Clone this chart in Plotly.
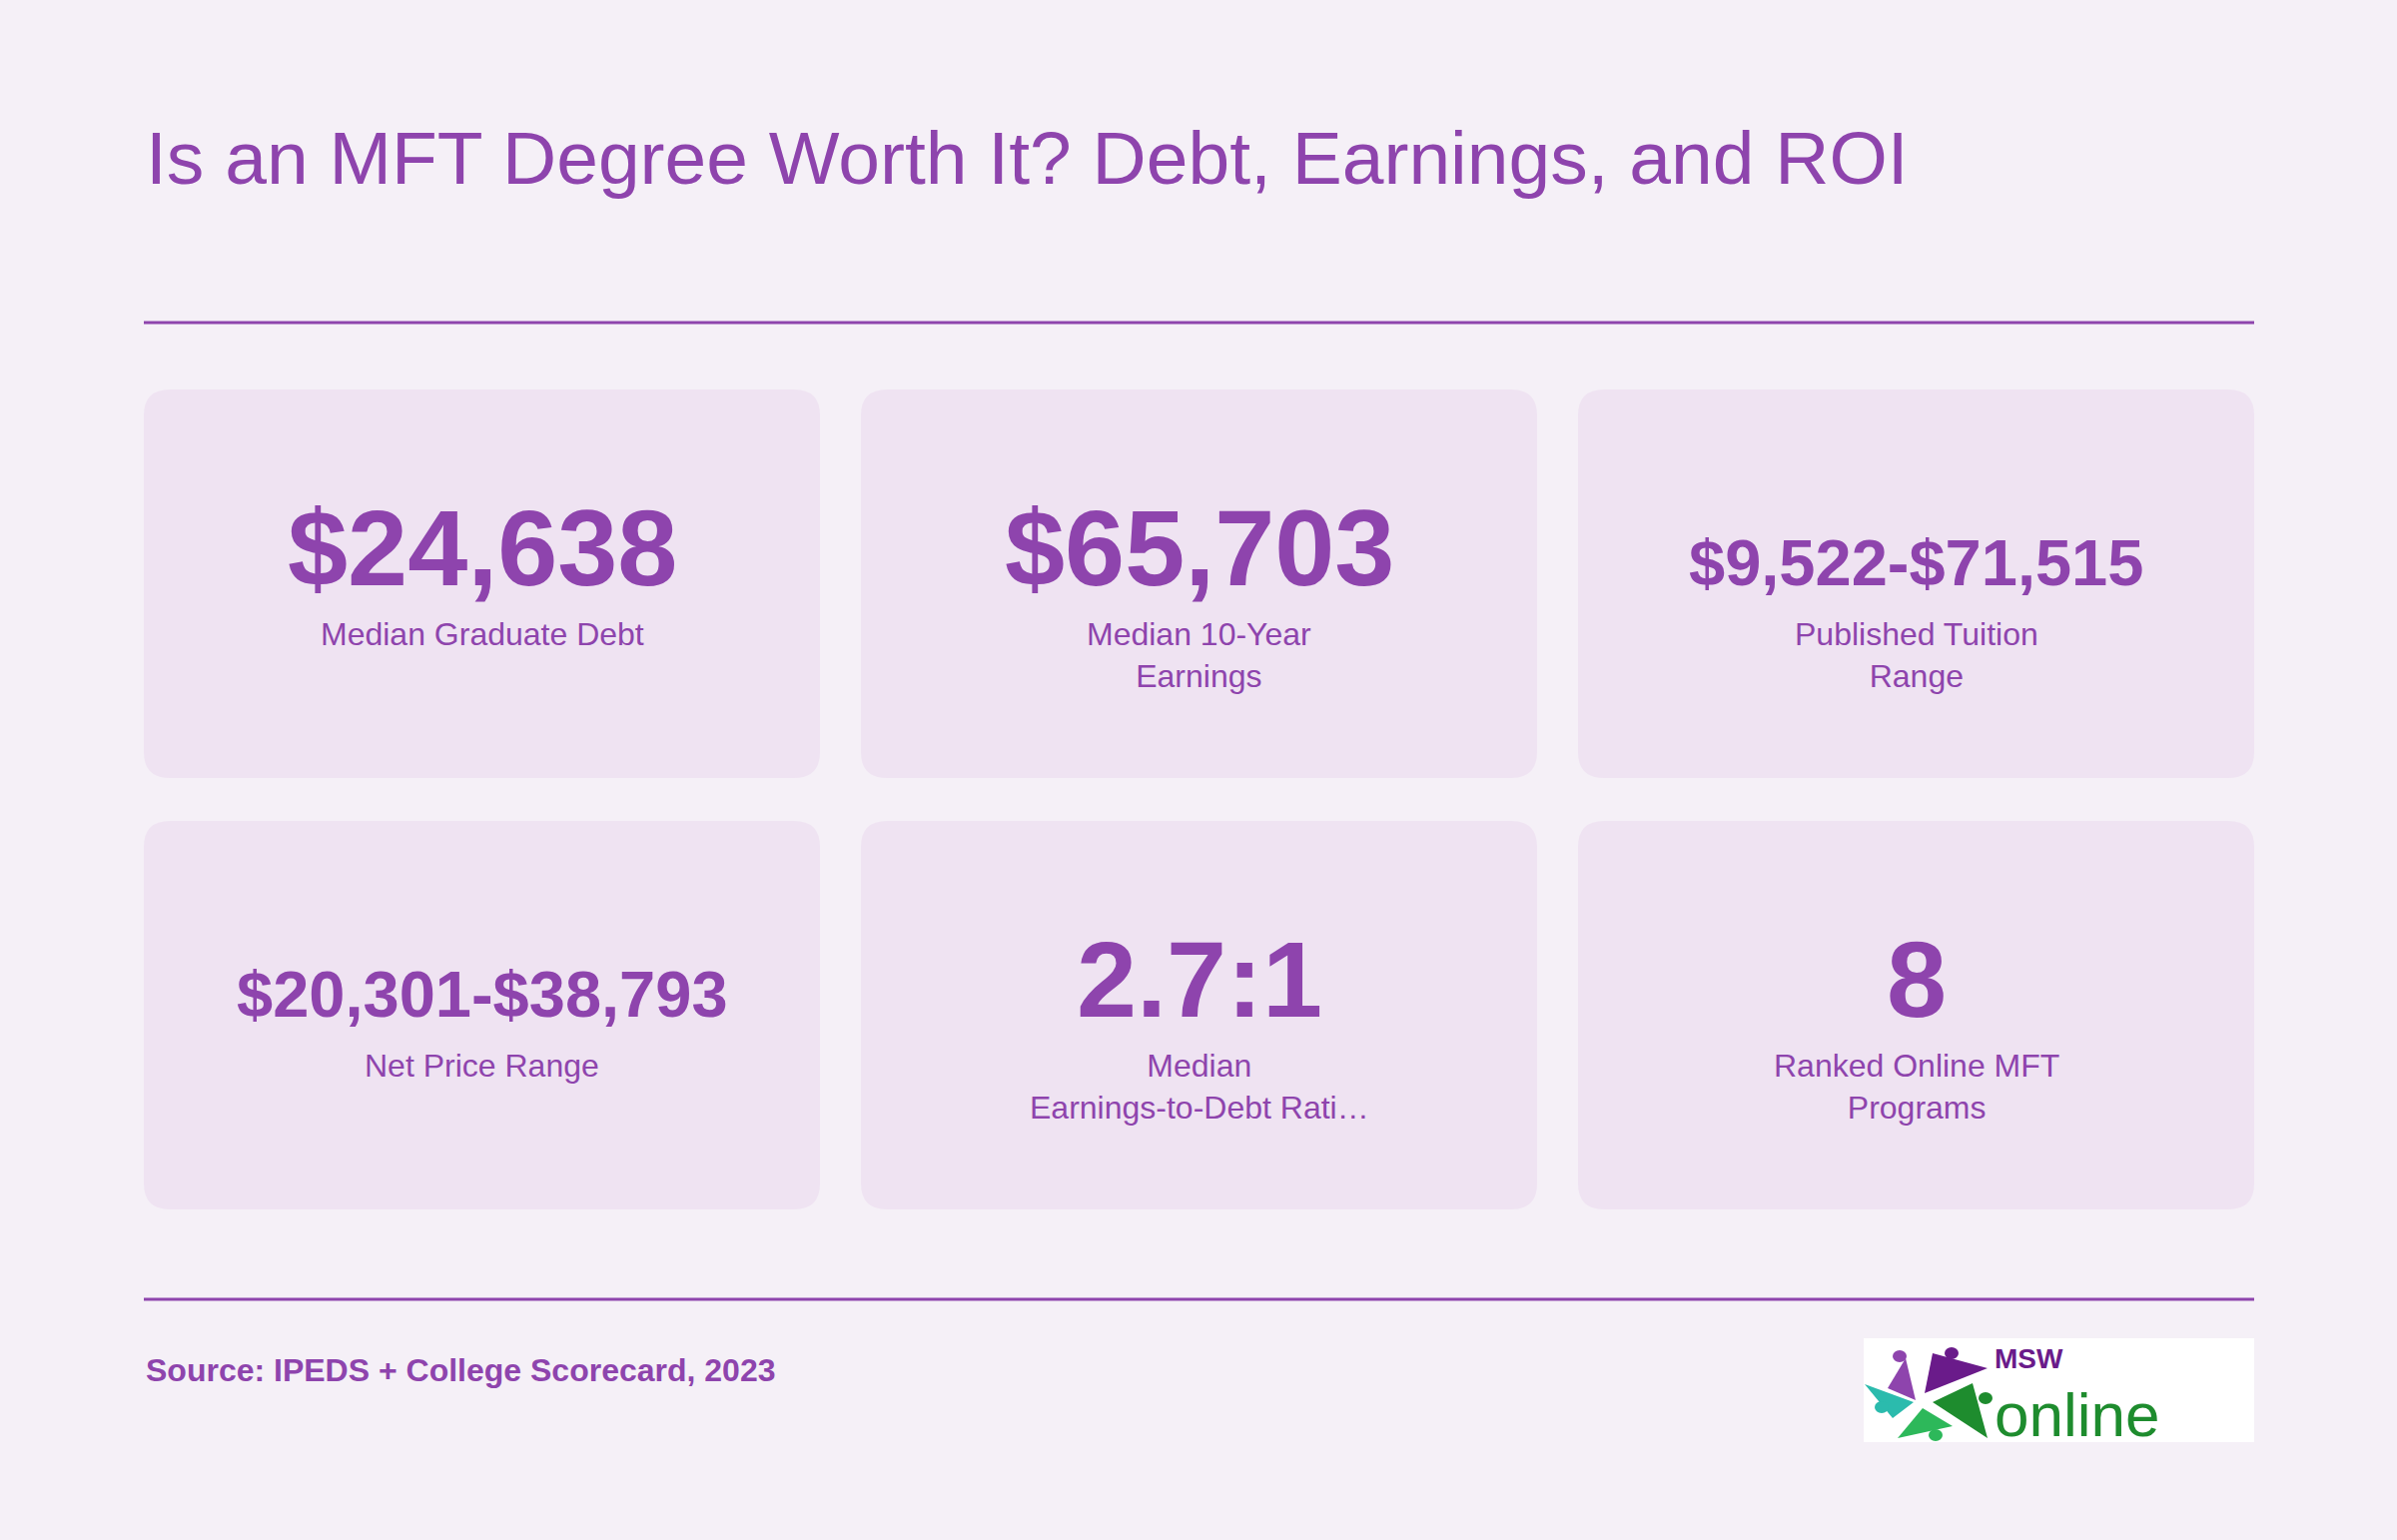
import plotly.graph_objects as go

# KPI values and labels
values = ["$24,638", "$65,703", "$9,522-$71,515",
          "$20,301-$38,793", "2.7:1", "8"]
labels = ["Median Graduate Debt", "Median 10-Year<br>Earnings",
          "Published Tuition<br>Range", "Net Price Range",
          "Median<br>Earnings-to-Debt Rati…", "Ranked Online MFT<br>Programs"]
value_sizes = [108, 108, 65, 65, 108, 108]

title = "Is an MFT Degree Worth It? Debt, Earnings, and ROI"
source = "Source: IPEDS + College Scorecard, 2023"

W, H = 2400, 1542
PURPLE = "#8E44AD"
BG = "#F5F0F7"
CARD = "#EFE3F2"
FONT = "Liberation Sans, Arial, sans-serif"

col_x = [(144, 821), (862, 1539), (1580, 2257)]
row_y = [(390, 779), (822, 1211)]


def rounded(x0, y0, x1, y1, r):
    return (f"M{x0+r},{y0} L{x1-r},{y0} Q{x1},{y0} {x1},{y0+r} "
            f"L{x1},{y1-r} Q{x1},{y1} {x1-r},{y1} L{x0+r},{y1} "
            f"Q{x0},{y1} {x0},{y1-r} L{x0},{y0+r} Q{x0},{y0} {x0+r},{y0} Z")


fig = go.Figure()
shapes = []
annotations = []

annotations.append(dict(x=144, y=158, text=title, xanchor="left", yanchor="middle",
                        showarrow=False, font=dict(family=FONT, size=75, color=PURPLE)))

for yl in (323, 1301):
    shapes.append(dict(type="line", x0=144, x1=2257, y0=yl, y1=yl,
                       line=dict(color=PURPLE, width=3), layer="below"))

for i, (val, lab, vs) in enumerate(zip(values, labels, value_sizes)):
    r, c = divmod(i, 3)
    x0, x1 = col_x[c]
    y0, y1 = row_y[r]
    cx = (x0 + x1) / 2
    shapes.append(dict(type="path", path=rounded(x0, y0, x1, y1, 26),
                       fillcolor=CARD, line=dict(width=0), layer="below"))
    baseline = y0 + 197
    annotations.append(dict(x=cx, y=baseline - 0.36 * vs, text=f"<b>{val}</b>",
                            xanchor="center", yanchor="middle", showarrow=False,
                            font=dict(family=FONT, size=vs, color=PURPLE)))
    annotations.append(dict(x=cx, y=y0 + 225, text=lab, xanchor="center", yanchor="top",
                            showarrow=False, align="center",
                            font=dict(family=FONT, size=32, color=PURPLE)))

annotations.append(dict(x=144, y=1372, text=f"<b>{source}</b>", xanchor="left",
                        yanchor="middle", showarrow=False,
                        font=dict(family=FONT, size=32, color=PURPLE)))

# logo (approximation)
shapes.append(dict(type="rect", x0=1866, x1=2257, y0=1340, y1=1444,
                   fillcolor="white", line=dict(width=0)))
star = [("#8E44AD", "M1918,1402 L1908,1360 L1890,1390 Z"),
        ("#6A1B8A", "M1927,1395 L1935,1355 L1990,1370 Z"),
        ("#2BBBAD", "M1916,1404 L1867,1386 L1895,1420 Z"),
        ("#1E8C2E", "M1935,1404 L1975,1385 L1990,1440 Z"),
        ("#2DB85A", "M1925,1410 L1900,1440 L1955,1428 Z")]
for col, p in star:
    shapes.append(dict(type="path", path=p, fillcolor=col, line=dict(width=0)))
for col, (cx, cy) in [("#8E44AD", (1902, 1358)), ("#6A1B8A", (1954, 1355)),
                      ("#2BBBAD", (1884, 1409)), ("#1E8C2E", (1988, 1400)),
                      ("#2DB85A", (1938, 1437))]:
    shapes.append(dict(type="circle", x0=cx - 7, x1=cx + 7, y0=cy - 6, y1=cy + 6,
                       fillcolor=col, line=dict(width=0)))
annotations.append(dict(x=1995, y=1360, text="<b>MSW</b>", xanchor="left", yanchor="middle",
                        showarrow=False, font=dict(family=FONT, size=28, color="#6A1B8A")))
annotations.append(dict(x=1995, y=1416, text="online", xanchor="left", yanchor="middle",
                        showarrow=False, font=dict(family=FONT, size=62, color="#1E8C2E")))

fig.update_layout(
    width=W, height=H, margin=dict(l=0, r=0, t=0, b=0),
    paper_bgcolor=BG, plot_bgcolor=BG, showlegend=False,
    shapes=shapes, annotations=annotations,
    xaxis=dict(range=[0, W], visible=False, fixedrange=True),
    yaxis=dict(range=[H, 0], visible=False, fixedrange=True),
)

fig.write_html("out.html", config={"displayModeBar": False},
               post_script="document.body.style.margin='0';"
                           "document.body.style.background='" + BG + "';")
